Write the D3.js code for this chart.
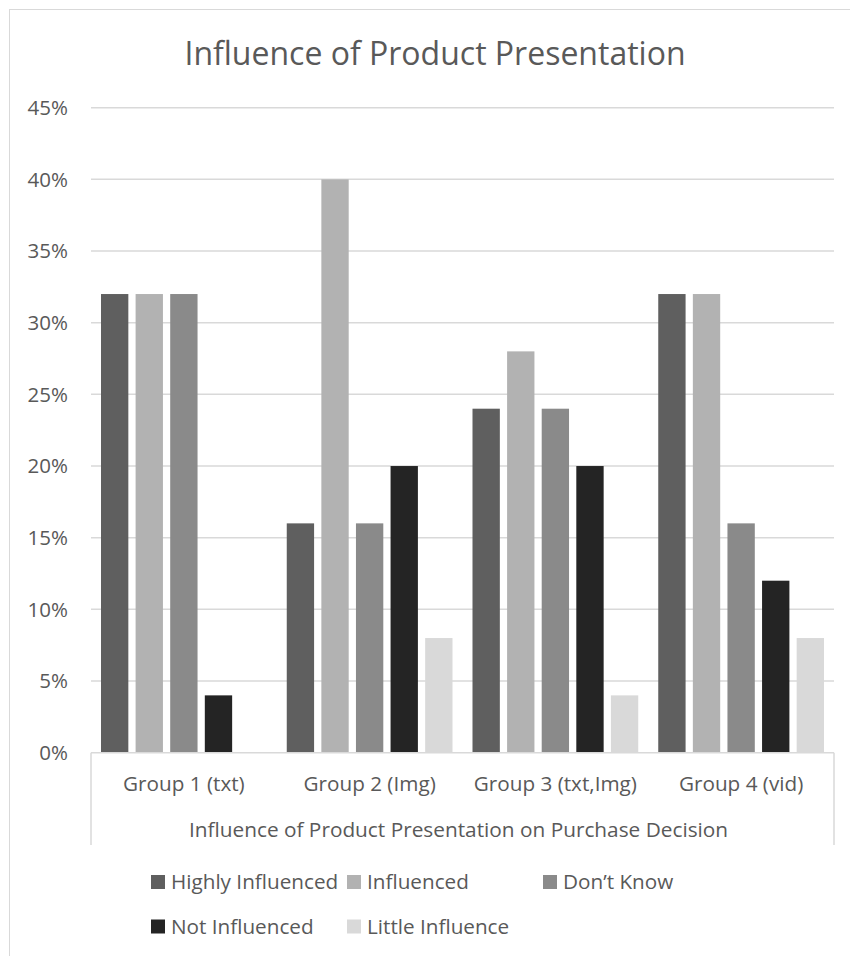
<!doctype html>
<html lang="en">
<head>
	<meta charset="utf-8">
	<title>Influence of Product Presentation</title>
	<script src="https://d3js.org/d3.v7.min.js"></script>
	<style>
		body { margin: 0; background: #fff; }
		text { font-family: "Open Sans", "Noto Sans", sans-serif; fill: #595959; }
	</style>
</head>
<body>
	<script>
		var width = 850;
		var height = 956;

		// chart data
		var groups = ["Group 1 (txt)", "Group 2 (Img)", "Group 3 (txt,Img)", "Group 4 (vid)"];
		var seriesNames = ["Highly Influenced", "Influenced", "Don\u2019t Know", "Not Influenced", "Little Influence"];
		var highly = [32, 16, 24, 32];
		var influenced = [32, 40, 28, 32];
		var dontKnow = [32, 16, 24, 16];
		var notInfluenced = [4, 20, 20, 12];
		var littleInfluence = [0, 8, 4, 8];
		var yTicks = [0, 5, 10, 15, 20, 25, 30, 35, 40, 45];
		var colors = ["#5f5f5f", "#b2b2b2", "#8a8a8a", "#242424", "#d9d9d9"];

		var seriesValues = [highly, influenced, dontKnow, notInfluenced, littleInfluence];

		var svg = d3.select("body").append("svg")
			.attr("width", width)
			.attr("height", height);

		// chart frame (only top and left show in the crop)
		svg.append("rect")
			.attr("x", 9.5).attr("y", 9.5)
			.attr("width", 900).attr("height", 1000)
			.attr("fill", "none")
			.attr("stroke", "#d9d9d9")
			.attr("stroke-width", 1);

		var plotLeft = 91, plotRight = 834, plotBottom = 752.7, plotTop = 107.7;

		var y = d3.scaleLinear().domain([0, 45]).range([plotBottom, plotTop]);
		var x0 = d3.scaleBand().domain(groups).range([plotLeft, plotRight]).padding(0);
		var x1 = d3.scaleBand().domain(d3.range(seriesNames.length))
			.range([10, x0.bandwidth() - 10])
			.paddingInner(0.21).paddingOuter(0);

		// title
		svg.append("text")
			.attr("x", 435).attr("y", 65)
			.attr("text-anchor", "middle")
			.style("font-size", "32px")
			.text("Influence of Product Presentation");

		// gridlines
		svg.append("g").selectAll("line")
			.data(yTicks.filter(function(d) { return d > 0; }))
			.enter().append("line")
			.attr("x1", plotLeft).attr("x2", plotRight)
			.attr("y1", function(d) { return y(d); })
			.attr("y2", function(d) { return y(d); })
			.attr("stroke", "#d9d9d9")
			.attr("stroke-width", 1.5);

		// y labels
		svg.append("g").selectAll("text")
			.data(yTicks)
			.enter().append("text")
			.attr("x", 68)
			.attr("y", function(d) { return y(d); })
			.attr("dy", "0.35em")
			.attr("text-anchor", "end")
			.style("font-size", "20.5px")
			.text(function(d) { return d + "%"; });

		// bars
		var rows = [];
		groups.forEach(function(g, gi) {
			seriesValues.forEach(function(vals, si) {
				rows.push({ group: g, s: si, v: vals[gi] });
			});
		});

		svg.append("g").selectAll("rect")
			.data(rows.filter(function(d) { return d.v > 0; }))
			.enter().append("rect")
			.attr("x", function(d) { return x0(d.group) + x1(d.s); })
			.attr("width", x1.bandwidth())
			.attr("y", function(d) { return y(d.v); })
			.attr("height", function(d) { return plotBottom - y(d.v); })
			.attr("fill", function(d) { return colors[d.s]; });

		// category axis box
		var axisG = svg.append("g")
			.attr("stroke", "#d9d9d9")
			.attr("stroke-width", 1.5);
		axisG.append("line").attr("x1", plotLeft).attr("x2", plotRight).attr("y1", plotBottom).attr("y2", plotBottom);
		axisG.append("line").attr("x1", plotLeft).attr("x2", plotLeft).attr("y1", plotBottom).attr("y2", 845);
		axisG.append("line").attr("x1", plotRight).attr("x2", plotRight).attr("y1", plotBottom).attr("y2", 845);

		svg.append("g").selectAll("text")
			.data(groups)
			.enter().append("text")
			.attr("x", function(d) { return x0(d) + x0.bandwidth() / 2; })
			.attr("y", 791)
			.attr("text-anchor", "middle")
			.style("font-size", "20.7px")
			.text(function(d) { return d; });

		svg.append("text")
			.attr("x", (plotLeft + plotRight) / 2 - 4)
			.attr("y", 837)
			.attr("text-anchor", "middle")
			.style("font-size", "20.8px")
			.text("Influence of Product Presentation on Purchase Decision");

		// legend
		var legend = svg.append("g").selectAll("g")
			.data(seriesNames)
			.enter().append("g")
			.attr("transform", function(d, i) {
				return "translate(" + (151 + (i % 3) * 196) + "," + (875 + Math.floor(i / 3) * 44.5) + ")";
			});

		legend.append("rect")
			.attr("width", 14).attr("height", 14)
			.attr("fill", function(d, i) { return colors[i]; });

		legend.append("text")
			.attr("x", 20).attr("y", 7)
			.attr("dy", "0.35em")
			.style("font-size", "20.7px")
			.text(function(d) { return d; });
	</script>
</body>
</html>
